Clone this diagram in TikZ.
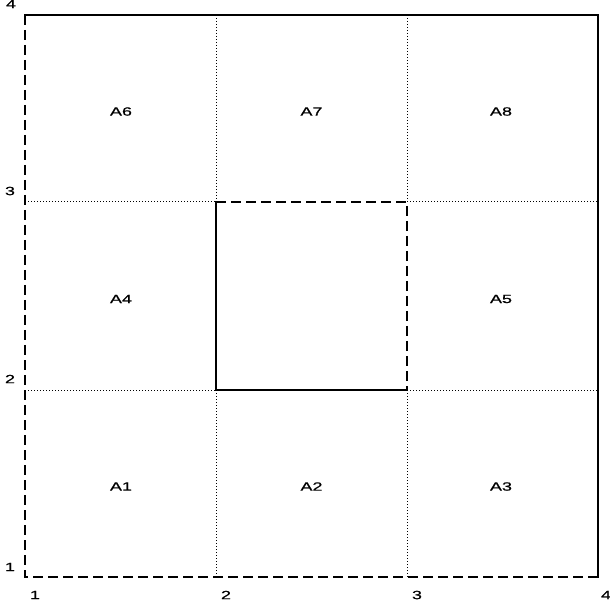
\documentclass[tikz,border=0pt]{standalone}
\usepackage{fontspec}
\setmainfont{Liberation Sans}
\newfontfamily\widefont[FakeStretch=1.5,FakeBold=0.8]{Liberation Sans}
\begin{document}
\begin{tikzpicture}[x=1pt,y=-1pt,
  grid/.style={line width=1pt,dotted,black},
  solidedge/.style={line width=2.2pt,black},
  dashedge/.style={line width=2.2pt,black,dash pattern=on 10pt off 5pt},
  cell/.style={inner sep=0pt,font=\widefont\fontsize{12}{14}\selectfont},
  tick/.style={inner sep=0pt,font=\widefont\fontsize{12}{14}\selectfont}]
\useasboundingbox (0,0) rectangle (610,609);
% corner coordinates
\coordinate (x1) at (25,0); \coordinate (x2) at (216,0);
\coordinate (x3) at (407,0); \coordinate (x4) at (598,0);
\coordinate (y4) at (0,15); \coordinate (y3) at (0,202);
\coordinate (y2) at (0,390); \coordinate (y1) at (0,577);
% dotted grid
\draw[grid] (x2|-y4) -- (x2|-y3);
\draw[grid] (x3|-y4) -- (x3|-y3);
\draw[grid] (x2|-y2) -- (x2|-y1);
\draw[grid] (x3|-y2) -- (x3|-y1);
\draw[grid] (x1|-y3) -- (x2|-y3);
\draw[grid] (x3|-y3) -- (x4|-y3);
\draw[grid] (x1|-y2) -- (x2|-y2);
\draw[grid] (x3|-y2) -- (x4|-y2);
% outer square
\draw[solidedge,line cap=rect] (x1|-y4) -- (x4|-y4) -- (x4|-y1);
\draw[dashedge] (x1|-y4) -- (x1|-y1) -- (x4|-y1);
% inner square
\draw[solidedge,line cap=rect] (x2|-y3) -- (x2|-y2) -- (x3|-y2);
\draw[dashedge] (x2|-y3) -- (x3|-y3) -- (x3|-y2);
% cell labels
\node[cell] (A6) at (121,111.5) {A6};
\node[cell] (A7) at (311.5,111.5) {A7};
\node[cell] (A8) at (501,111.5) {A8};
\node[cell] (A4) at (121,299) {A4};
\node[cell] (A5) at (501,299) {A5};
\node[cell] (A1) at (121,486.5) {A1};
\node[cell] (A2) at (311.5,486.5) {A2};
\node[cell] (A3) at (501,486.5) {A3};
% axis labels
\node[tick] (l4) at (11,4) {4};
\node[tick] (l3) at (10,191) {3};
\node[tick] (l2) at (10,379) {2};
\node[tick] (l1) at (10,567) {1};
\node[tick] (b1) at (35,595) {1};
\node[tick] (b2) at (226,595) {2};
\node[tick] (b3) at (417,595) {3};
\node[tick] (b4) at (606,595) {4};
\end{tikzpicture}
\end{document}
